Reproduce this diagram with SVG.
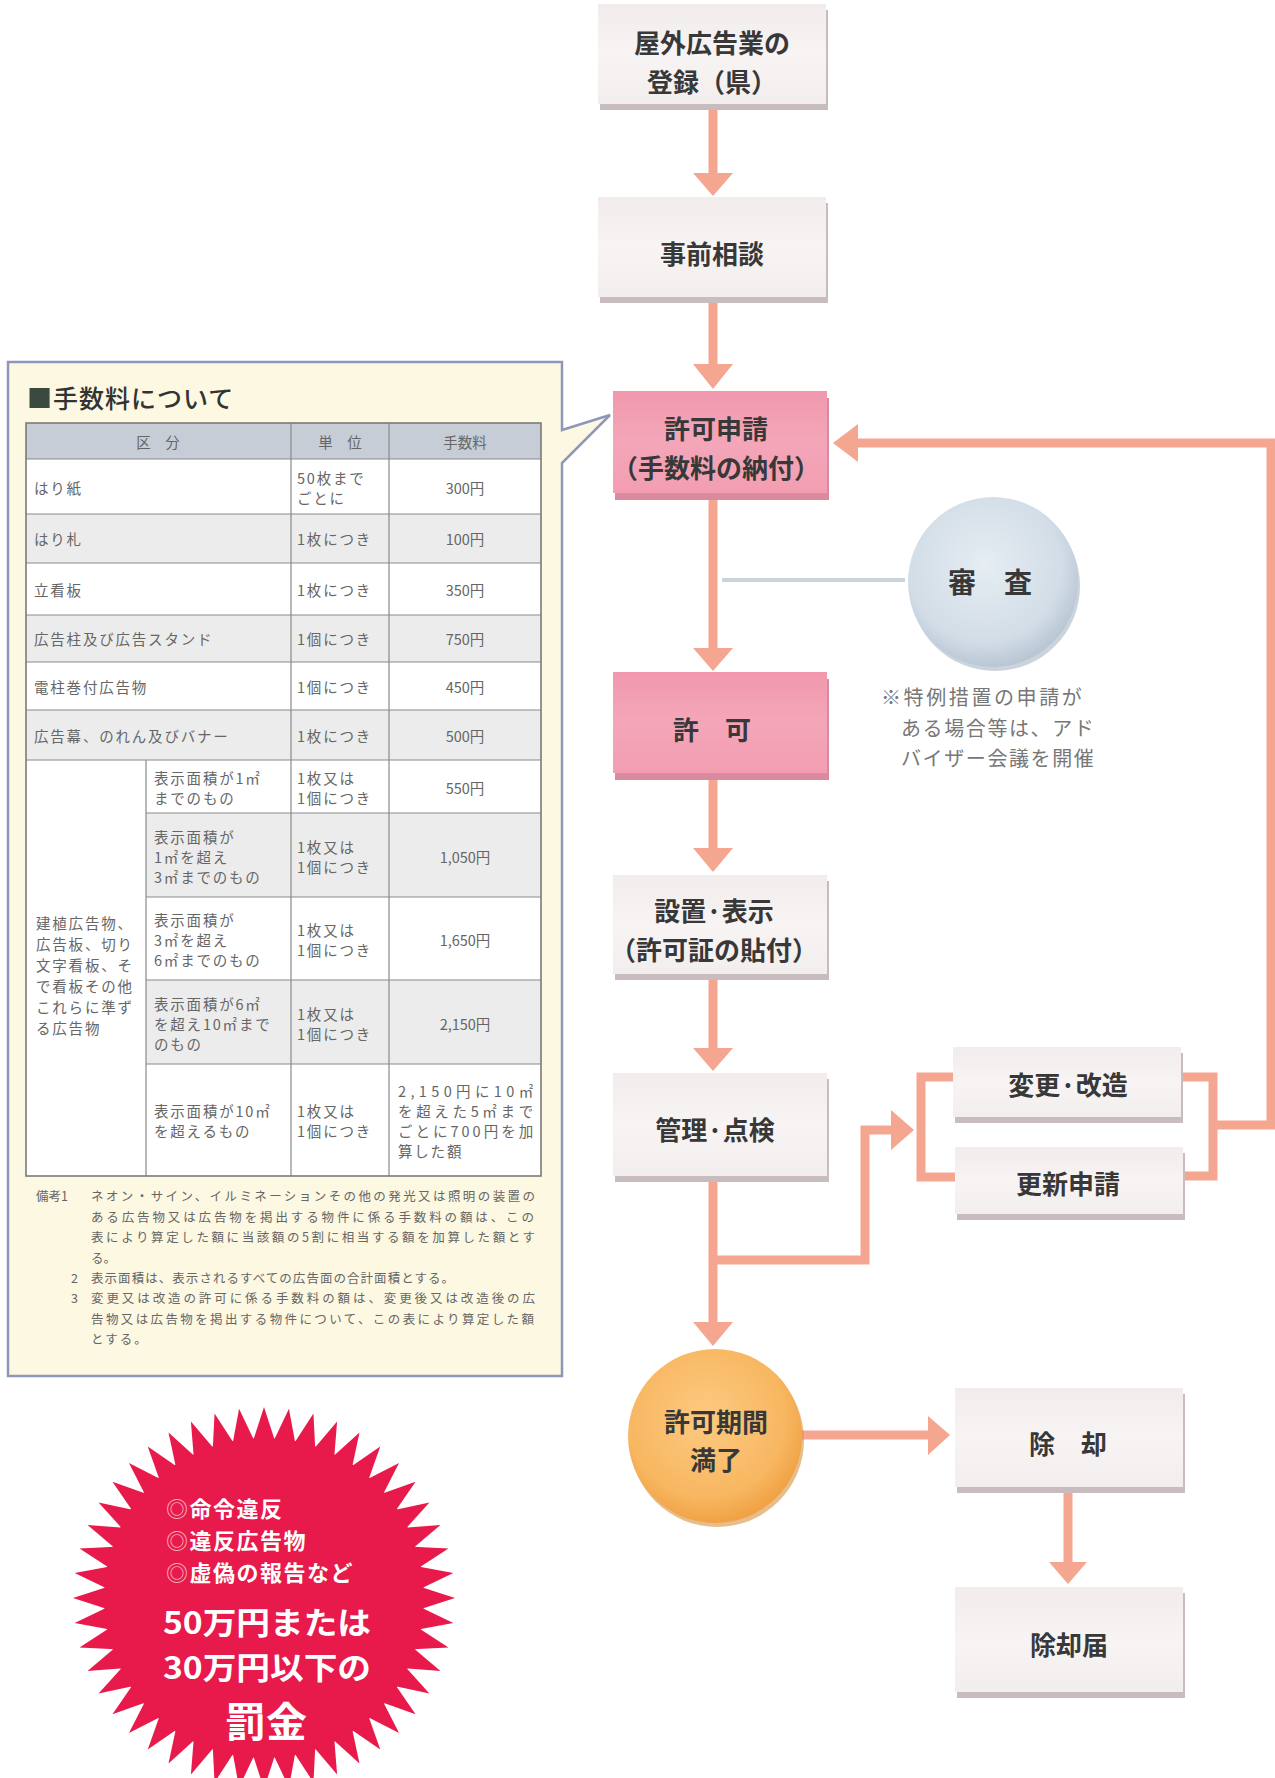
<svg xmlns="http://www.w3.org/2000/svg" width="1275" height="1778" viewBox="0 0 1275 1778">
<style>
text{font-family:'Noto Sans CJK JP','Noto Sans',sans-serif}
.bt{font-size:26px;font-weight:bold;fill:#383838;text-anchor:middle;dominant-baseline:central}
.tt{font-size:14.5px;fill:#666;letter-spacing:1.8px;dominant-baseline:central}
.tc{font-size:14.5px;fill:#666;text-anchor:middle;dominant-baseline:central}
.nt{font-size:12.5px;fill:#666;dominant-baseline:central}
.tl{stroke:#8a8a8a;stroke-width:1.2;fill:none}
.cn{stroke:#f5a690;stroke-width:9;fill:none}
.ah{fill:#f5a690}
.st{font-size:22px;font-weight:bold;fill:#fff;letter-spacing:1.5px;dominant-baseline:central}
.sb{font-weight:bold;fill:#fff;dominant-baseline:central}
.nn{font-size:20px;fill:#777;dominant-baseline:central}
</style>
<defs>
<linearGradient id="gbox" x1="0" y1="0" x2="0" y2="1"><stop offset="0" stop-color="#f2ecec"/><stop offset="0.5" stop-color="#f8f4f4"/><stop offset="1" stop-color="#f3eeee"/></linearGradient>
<linearGradient id="gpink" x1="0" y1="0" x2="0" y2="1"><stop offset="0" stop-color="#f198ae"/><stop offset="0.5" stop-color="#f4a6b9"/><stop offset="1" stop-color="#f29db2"/></linearGradient>
<radialGradient id="gblue" cx="0.45" cy="0.4" r="0.6"><stop offset="0" stop-color="#e6edf3"/><stop offset="0.75" stop-color="#d2dde7"/><stop offset="1" stop-color="#b9c7d4"/></radialGradient>
<radialGradient id="gorange" cx="0.45" cy="0.4" r="0.6"><stop offset="0" stop-color="#fcca82"/><stop offset="0.75" stop-color="#f8b761"/><stop offset="1" stop-color="#f0a245"/></radialGradient>
<polygon id="sp" points="-11,-157 0,-191 11,-157"/>
</defs>
<rect width="1275" height="1778" fill="#fff"/>

<!-- fee panel -->
<g id="fee-panel">
<path d="M8,362 H562 V430 L610,415 L562,463 V1376 H8 Z" fill="#fdf8e1" stroke="#8e97b9" stroke-width="2.5"/>
<text x="27" y="397" font-size="25" font-weight="500" fill="#333" letter-spacing="1" dominant-baseline="central"><tspan fill="#3b4a40">■</tspan>手数料について</text>
<g id="fee-table">
<rect x="26" y="423" width="515" height="753" fill="#fff"/>
<rect x="26" y="423" width="515" height="36" fill="#c7cdd7"/>
<rect x="26" y="514" width="515" height="49" fill="#ececec"/>
<rect x="26" y="615" width="515" height="47" fill="#ececec"/>
<rect x="26" y="710" width="515" height="50" fill="#ececec"/>
<rect x="146" y="813" width="395" height="84" fill="#ececec"/>
<rect x="146" y="980" width="395" height="84" fill="#ececec"/>
<path class="tl" d="M26,459H541M26,514H541M26,563H541M26,615H541M26,662H541M26,710H541M26,760H541M146,813H541M146,897H541M146,980H541M146,1064H541M291,423V1176M389,423V1176M146,760V1176"/>
<rect x="26" y="423" width="515" height="753" fill="none" stroke="#7a7a7a" stroke-width="1.6"/>
<text class="tc" x="158" y="441">区　分</text>
<text class="tc" x="340" y="441">単　位</text>
<text class="tc" x="465" y="441">手数料</text>
<text class="tt" x="34" y="487">はり紙</text>
<text class="tt" x="297" y="477">50枚まで</text>
<text class="tt" x="297" y="497">ごとに</text>
<text class="tc" x="465" y="487">300円</text>
<text class="tt" x="34" y="538">はり札</text>
<text class="tt" x="297" y="538">1枚につき</text>
<text class="tc" x="465" y="538">100円</text>
<text class="tt" x="34" y="589">立看板</text>
<text class="tt" x="297" y="589">1枚につき</text>
<text class="tc" x="465" y="589">350円</text>
<text class="tt" x="34" y="638">広告柱及び広告スタンド</text>
<text class="tt" x="297" y="638">1個につき</text>
<text class="tc" x="465" y="638">750円</text>
<text class="tt" x="34" y="686">電柱巻付広告物</text>
<text class="tt" x="297" y="686">1個につき</text>
<text class="tc" x="465" y="686">450円</text>
<text class="tt" x="34" y="735">広告幕、のれん及びバナー</text>
<text class="tt" x="297" y="735">1枚につき</text>
<text class="tc" x="465" y="735">500円</text>
<text class="tt" x="36" y="922">建植広告物、</text>
<text class="tt" x="36" y="943">広告板、切り</text>
<text class="tt" x="36" y="964">文字看板、そ</text>
<text class="tt" x="36" y="985">で看板その他</text>
<text class="tt" x="36" y="1006">これらに準ず</text>
<text class="tt" x="36" y="1027">る広告物</text>
<text class="tt" x="154" y="777">表示面積が1㎡</text>
<text class="tt" x="154" y="797">までのもの</text>
<text class="tt" x="297" y="777">1枚又は</text>
<text class="tt" x="297" y="797">1個につき</text>
<text class="tc" x="465" y="787">550円</text>
<text class="tt" x="154" y="836">表示面積が</text>
<text class="tt" x="154" y="856">1㎡を超え</text>
<text class="tt" x="154" y="876">3㎡までのもの</text>
<text class="tt" x="297" y="846">1枚又は</text>
<text class="tt" x="297" y="866">1個につき</text>
<text class="tc" x="465" y="856">1,050円</text>
<text class="tt" x="154" y="919">表示面積が</text>
<text class="tt" x="154" y="939">3㎡を超え</text>
<text class="tt" x="154" y="959">6㎡までのもの</text>
<text class="tt" x="297" y="929">1枚又は</text>
<text class="tt" x="297" y="949">1個につき</text>
<text class="tc" x="465" y="939">1,650円</text>
<text class="tt" x="154" y="1003">表示面積が6㎡</text>
<text class="tt" x="154" y="1023">を超え10㎡まで</text>
<text class="tt" x="154" y="1043">のもの</text>
<text class="tt" x="297" y="1013">1枚又は</text>
<text class="tt" x="297" y="1033">1個につき</text>
<text class="tc" x="465" y="1023">2,150円</text>
<text class="tt" x="154" y="1110">表示面積が10㎡</text>
<text class="tt" x="154" y="1130">を超えるもの</text>
<text class="tt" x="297" y="1110">1枚又は</text>
<text class="tt" x="297" y="1130">1個につき</text>
<text class="tt" x="398" y="1090" textLength="137" lengthAdjust="spacing">2,150円に10㎡</text>
<text class="tt" x="398" y="1110" textLength="137" lengthAdjust="spacing">を超えた5㎡まで</text>
<text class="tt" x="398" y="1130" textLength="137" lengthAdjust="spacing">ごとに700円を加</text>
<text class="tt" x="398" y="1150">算した額</text>
</g>
<g id="fee-notes">
<text class="nt" x="36" y="1195">備考1</text>
<text class="nt" x="91" y="1195" textLength="444" lengthAdjust="spacing">ネオン・サイン、イルミネーションその他の発光又は照明の装置の</text>
<text class="nt" x="91" y="1216" textLength="443" lengthAdjust="spacing">ある広告物又は広告物を掲出する物件に係る手数料の額は、この</text>
<text class="nt" x="91" y="1236" textLength="444" lengthAdjust="spacing">表により算定した額に当該額の5割に相当する額を加算した額とす</text>
<text class="nt" x="91" y="1257">る。</text>
<text class="nt" x="71" y="1277">2</text>
<text class="nt" x="91" y="1277" textLength="363" lengthAdjust="spacing">表示面積は、表示されるすべての広告面の合計面積とする。</text>
<text class="nt" x="71" y="1297">3</text>
<text class="nt" x="91" y="1297" textLength="444" lengthAdjust="spacing">変更又は改造の許可に係る手数料の額は、変更後又は改造後の広</text>
<text class="nt" x="91" y="1318" textLength="443" lengthAdjust="spacing">告物又は広告物を掲出する物件について、この表により算定した額</text>
<text class="nt" x="91" y="1338" letter-spacing="2">とする。</text>
</g>
</g>

<!-- connectors -->
<g id="connectors">
<line x1="722" y1="580" x2="905" y2="580" stroke="#c8d4de" stroke-width="4"/>
<path class="cn" d="M713,110V176M713,303V366M713,500V650M713,780V850M713,980V1050M713,1182V1324"/>
<polygon class="ah" points="693,173 733,173 713,196"/>
<polygon class="ah" points="693,364 733,364 713,389"/>
<polygon class="ah" points="693,648 733,648 713,671"/>
<polygon class="ah" points="693,848 733,848 713,872"/>
<polygon class="ah" points="693,1048 733,1048 713,1071"/>
<polygon class="ah" points="693,1322 733,1322 713,1346"/>
<path class="cn" d="M713,1260H865V1130H894"/>
<polygon class="ah" points="891,1110 891,1150 914,1130"/>
<path class="cn" d="M953,1077H921V1177H955"/>
<path class="cn" d="M1183,1077H1213V1176H1183M1213,1125H1271V443H856"/>
<polygon class="ah" points="858,424 858,462 833,443"/>
<path class="cn" d="M800,1435H930"/>
<polygon class="ah" points="928,1416 928,1455 950,1435"/>
<path class="cn" d="M1068,1493V1565"/>
<polygon class="ah" points="1049,1562 1087,1562 1068,1584"/>
</g>

<!-- nodes -->
<g id="n-register">
<rect x="600" y="10" width="228" height="100" fill="#c9bcbe"/>
<rect x="598" y="4" width="228" height="100" fill="url(#gbox)"/>
<text class="bt" x="712" y="41">屋外広告業の</text>
<text class="bt" x="712" y="80">登録（県）</text>
</g>
<g id="n-consult">
<rect x="600" y="203" width="228" height="100" fill="#c9bcbe"/>
<rect x="598" y="197" width="228" height="100" fill="url(#gbox)"/>
<text class="bt" x="712" y="252">事前相談</text>
</g>
<g id="n-apply">
<rect x="615" y="398" width="214" height="102" fill="#d98a9e"/>
<rect x="613" y="391" width="214" height="102" fill="url(#gpink)"/>
<text class="bt" x="716" y="427">許可申請</text>
<text class="bt" x="716" y="466">（手数料の納付）</text>
</g>
<g id="n-review">
<circle cx="995" cy="586" r="85" fill="#a9b7c4" opacity="0.6"/>
<circle cx="993" cy="582" r="85" fill="url(#gblue)"/>
<text class="bt" x="990" y="581" style="font-size:28px">審　査</text>
<text class="nn" x="881" y="696" letter-spacing="2.6">※特例措置の申請が</text>
<text class="nn" x="901" y="727" letter-spacing="1.6">ある場合等は、アド</text>
<text class="nn" x="901" y="757" letter-spacing="1.6">バイザー会議を開催</text>
</g>
<g id="n-permit">
<rect x="615" y="679" width="214" height="101" fill="#d98a9e"/>
<rect x="613" y="672" width="214" height="101" fill="url(#gpink)"/>
<text class="bt" x="712" y="728">許　可</text>
</g>
<g id="n-install">
<rect x="615" y="881" width="214" height="99" fill="#c9bcbe"/>
<rect x="613" y="875" width="214" height="99" fill="url(#gbox)"/>
<text class="bt" x="714" y="909">設置·表示</text>
<text class="bt" x="714" y="948">（許可証の貼付）</text>
</g>
<g id="n-manage">
<rect x="615" y="1079" width="214" height="103" fill="#c9bcbe"/>
<rect x="613" y="1073" width="214" height="103" fill="url(#gbox)"/>
<text class="bt" x="715" y="1128">管理·点検</text>
</g>
<g id="n-change">
<rect x="955" y="1053" width="228" height="70" fill="#c9bcbe"/>
<rect x="953" y="1047" width="228" height="70" fill="url(#gbox)"/>
<text class="bt" x="1068" y="1083">変更·改造</text>
</g>
<g id="n-renew">
<rect x="957" y="1153" width="228" height="67" fill="#c9bcbe"/>
<rect x="955" y="1147" width="228" height="67" fill="url(#gbox)"/>
<text class="bt" x="1068" y="1182">更新申請</text>
</g>
<g id="n-expire">
<circle cx="717" cy="1440" r="87" fill="#d8913f" opacity="0.6"/>
<circle cx="715" cy="1436" r="87" fill="url(#gorange)"/>
<text class="bt" x="716" y="1420">許可期間</text>
<text class="bt" x="716" y="1458">満了</text>
</g>
<g id="n-remove">
<rect x="957" y="1394" width="228" height="99" fill="#c9bcbe"/>
<rect x="955" y="1388" width="228" height="99" fill="url(#gbox)"/>
<text class="bt" x="1068" y="1442">除　却</text>
</g>
<g id="n-report">
<rect x="957" y="1593" width="228" height="105" fill="#c9bcbe"/>
<rect x="955" y="1587" width="228" height="105" fill="url(#gbox)"/>
<text class="bt" x="1069" y="1643">除却届</text>
</g>

<!-- penalty starburst -->
<g id="penalty">
<g transform="translate(264,1598)" fill="#e8194b">
<circle r="160"/>
<g id="spk12">
<use href="#sp"/>
<use href="#sp" transform="rotate(7.5)"/>
<use href="#sp" transform="rotate(15)"/>
<use href="#sp" transform="rotate(22.5)"/>
<use href="#sp" transform="rotate(30)"/>
<use href="#sp" transform="rotate(37.5)"/>
<use href="#sp" transform="rotate(45)"/>
<use href="#sp" transform="rotate(52.5)"/>
<use href="#sp" transform="rotate(60)"/>
<use href="#sp" transform="rotate(67.5)"/>
<use href="#sp" transform="rotate(75)"/>
<use href="#sp" transform="rotate(82.5)"/>
</g>
<use href="#spk12" transform="rotate(90)"/>
<use href="#spk12" transform="rotate(180)"/>
<use href="#spk12" transform="rotate(270)"/>
</g>
<text class="st" x="166" y="1507"><tspan fill="#f7a6b6">◎</tspan>命令違反</text>
<text class="st" x="166" y="1539"><tspan fill="#f7a6b6">◎</tspan>違反広告物</text>
<text class="st" x="166" y="1571"><tspan fill="#f7a6b6">◎</tspan>虚偽の報告など</text>
<text class="sb" x="163" y="1620" font-size="31" textLength="208" lengthAdjust="spacingAndGlyphs">50万円または</text>
<text class="sb" x="163" y="1665" font-size="31" textLength="208" lengthAdjust="spacingAndGlyphs">30万円以下の</text>
<text class="sb" x="266" y="1719" font-size="41" text-anchor="middle">罰金</text>
</g>
</svg>
